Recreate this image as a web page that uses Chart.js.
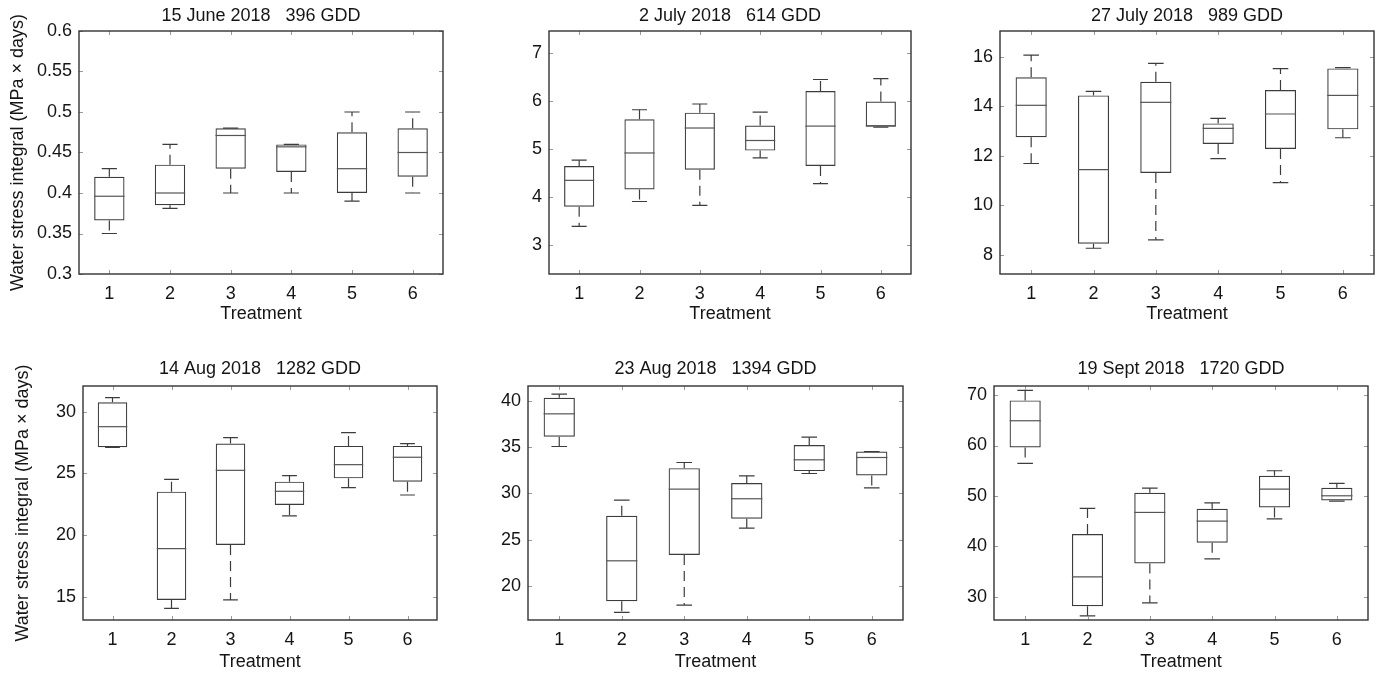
<!DOCTYPE html>
<html>
<head>
<meta charset="utf-8">
<script src="https://cdn.jsdelivr.net/npm/chart.js@4.4.1/dist/chart.umd.min.js"></script>
<style>
  body { margin: 0; background: #fff; width: 1380px; height: 675px; position: relative; overflow: hidden; }
  canvas { position: absolute; }
</style>
</head>
<body>
<script>
const treatments = ['1', '2', '3', '4', '5', '6'];
const yTitle = 'Water stress integral (MPa \u00d7 days)';
const xTitle = 'Treatment';

// 15 June 2018, 396 GDD
const junMin = [0.350, 0.381, 0.400, 0.400, 0.390, 0.400];
const junQ1  = [0.366, 0.385, 0.430, 0.426, 0.400, 0.420];
const junMed = [0.396, 0.400, 0.471, 0.457, 0.430, 0.450];
const junQ3  = [0.420, 0.435, 0.480, 0.460, 0.475, 0.480];
const junMax = [0.430, 0.460, 0.480, 0.460, 0.500, 0.500];
const junTicks = [0.3, 0.35, 0.4, 0.45, 0.5, 0.55, 0.6];

// 2 July 2018, 614 GDD
const julMin = [3.39, 3.91, 3.83, 4.82, 4.28, 5.46];
const julQ1  = [3.80, 4.16, 4.57, 4.97, 4.65, 5.47];
const julMed = [4.35, 4.92, 5.44, 5.18, 5.48, 5.48];
const julQ3  = [4.65, 5.62, 5.76, 5.49, 6.21, 5.99];
const julMax = [4.77, 5.82, 5.94, 5.77, 6.45, 6.47];
const julTicks = [3, 4, 5, 6, 7];

// 27 July 2018, 989 GDD
const lateJulMin = [11.69, 8.27, 8.61, 11.89, 10.92, 12.73];
const lateJulQ1  = [12.75, 8.45, 11.31, 12.48, 12.28, 13.07];
const lateJulMed = [14.04, 11.44, 14.16, 13.11, 13.69, 14.44];
const lateJulQ3  = [15.17, 14.44, 14.99, 13.31, 14.66, 15.53];
const lateJulMax = [16.07, 14.60, 15.73, 13.51, 15.52, 15.56];
const lateJulTicks = [8, 10, 12, 14, 16];

// 14 Aug 2018, 1282 GDD
const augMin = [27.10, 14.05, 14.73, 21.54, 23.84, 23.24];
const augQ1  = [27.11, 14.73, 19.19, 22.43, 24.59, 24.32];
const augMed = [28.78, 18.89, 25.24, 23.54, 25.70, 26.30];
const augQ3  = [30.76, 23.51, 27.41, 24.32, 27.22, 27.22];
const augMax = [31.14, 24.51, 27.89, 24.81, 28.30, 27.41];
const augTicks = [15, 20, 25, 30];

// 23 Aug 2018, 1394 GDD
const lateAugMin = [35.06, 17.12, 17.91, 26.23, 32.14, 30.59];
const lateAugQ1  = [36.11, 18.34, 23.32, 27.24, 32.40, 31.93];
const lateAugMed = [38.59, 22.70, 30.45, 29.41, 33.62, 33.87];
const lateAugQ3  = [40.32, 27.57, 32.72, 31.10, 35.21, 34.52];
const lateAugMax = [40.72, 29.26, 33.33, 31.89, 36.07, 34.52];
const lateAugTicks = [20, 25, 30, 35, 40];

// 19 Sept 2018, 1720 GDD
const sepMin = [56.45, 26.23, 28.81, 37.54, 45.47, 48.98];
const sepQ1  = [59.62, 28.15, 36.61, 40.71, 47.72, 49.11];
const sepMed = [64.91, 33.97, 46.73, 45.01, 51.36, 50.03];
const sepQ3  = [68.94, 42.43, 50.63, 47.45, 54.00, 51.62];
const sepMax = [70.93, 47.52, 51.55, 48.64, 54.99, 52.48];
const sepTicks = [30, 40, 50, 60, 70];

const panels = [
  { title: '15 June 2018   396 GDD', min: junMin, q1: junQ1, med: junMed, q3: junQ3, max: junMax, ticks: junTicks,
    yMin: 0.3, yMax: 0.6, L: 79, R: 443, T: 31, B: 274, titleY: 16, xTitleOff: 40, yTitleX: 18 },
  { title: '2 July 2018   614 GDD', min: julMin, q1: julQ1, med: julMed, q3: julQ3, max: julMax, ticks: julTicks,
    yMin: 2.4, yMax: 7.46, L: 549, R: 911, T: 31, B: 274, titleY: 16, xTitleOff: 40 },
  { title: '27 July 2018   989 GDD', min: lateJulMin, q1: lateJulQ1, med: lateJulMed, q3: lateJulQ3, max: lateJulMax, ticks: lateJulTicks,
    yMin: 7.23, yMax: 17.04, L: 1000, R: 1374, T: 31, B: 274, titleY: 16, xTitleOff: 40 },
  { title: '14 Aug 2018   1282 GDD', min: augMin, q1: augQ1, med: augMed, q3: augQ3, max: augMax, ticks: augTicks,
    yMin: 13.1, yMax: 32.08, L: 83, R: 437, T: 386, B: 620, titleY: 369, xTitleOff: 42, yTitleX: 23 },
  { title: '23 Aug 2018   1394 GDD', min: lateAugMin, q1: lateAugQ1, med: lateAugMed, q3: lateAugQ3, max: lateAugMax, ticks: lateAugTicks,
    yMin: 16.3, yMax: 41.6, L: 528, R: 903, T: 386, B: 620, titleY: 369, xTitleOff: 42 },
  { title: '19 Sept 2018   1720 GDD', min: sepMin, q1: sepQ1, med: sepMed, q3: sepQ3, max: sepMax, ticks: sepTicks,
    yMin: 25.4, yMax: 71.8, L: 994, R: 1368, T: 386, B: 620, titleY: 369, xTitleOff: 42 }
];

Chart.defaults.font.family = '"Liberation Sans", Arial, Helvetica, sans-serif';
Chart.defaults.color = '#151515';

const FS = 18;
const LH = FS * 1.2;
const INK = '#151515';

// whiskers, caps and medians, placed through the chart's own scales
const boxExtras = {
  id: 'boxExtras',
  afterDatasetsDraw(chart, args, opts) {
    const ctx = chart.ctx;
    const y = chart.scales.y;
    const meta = chart.getDatasetMeta(0);
    ctx.save();
    ctx.strokeStyle = '#3c3c3c';
    ctx.lineWidth = 1.2;
    meta.data.forEach((bar, i) => {
      const cx = bar.x;
      const half = bar.width / 2;
      const yq1 = y.getPixelForValue(opts.q1[i]);
      const yq3 = y.getPixelForValue(opts.q3[i]);
      const ylo = y.getPixelForValue(opts.min[i]);
      const yhi = y.getPixelForValue(opts.max[i]);
      const ym = y.getPixelForValue(opts.med[i]);
      // whiskers, dashed, starting at the box
      ctx.setLineDash([10, 6]);
      ctx.beginPath();
      if (yhi < yq3 - 1) { ctx.moveTo(cx, yq3); ctx.lineTo(cx, yhi); }
      if (ylo > yq1 + 1) { ctx.moveTo(cx, yq1); ctx.lineTo(cx, ylo); }
      ctx.stroke();
      ctx.setLineDash([]);
      // caps
      ctx.beginPath();
      ctx.moveTo(cx - half / 2, yhi); ctx.lineTo(cx + half / 2, yhi);
      ctx.moveTo(cx - half / 2, ylo); ctx.lineTo(cx + half / 2, ylo);
      ctx.stroke();
      // median
      ctx.strokeStyle = '#555';
      ctx.beginPath();
      ctx.moveTo(cx - half, ym); ctx.lineTo(cx + half, ym);
      ctx.stroke();
      ctx.strokeStyle = '#3c3c3c';
    });
    ctx.restore();
  },
  afterDraw(chart) {
    const ctx = chart.ctx;
    const a = chart.chartArea;
    const x = chart.scales.x, y = chart.scales.y;
    ctx.save();
    // inward tick marks on all four sides
    ctx.strokeStyle = '#9a9a9a';
    ctx.lineWidth = 1;
    ctx.beginPath();
    x.ticks.forEach((t, i) => {
      const px = Math.round(x.getPixelForTick(i)) + 0.5;
      ctx.moveTo(px, a.bottom); ctx.lineTo(px, a.bottom - 4);
      ctx.moveTo(px, a.top); ctx.lineTo(px, a.top + 4);
    });
    y.ticks.forEach(t => {
      const py = Math.round(y.getPixelForValue(t.value)) + 0.5;
      ctx.moveTo(a.left, py); ctx.lineTo(a.left + 4, py);
      ctx.moveTo(a.right, py); ctx.lineTo(a.right - 4, py);
    });
    ctx.stroke();
    // frame
    ctx.strokeStyle = '#333';
    ctx.lineWidth = 1.4;
    ctx.strokeRect(a.left, a.top, a.right - a.left, a.bottom - a.top);
    ctx.restore();
  }
};

panels.forEach(p => {
  const hasYTitle = p.yTitleX !== undefined;
  const wy = hasYTitle ? p.L : 50;
  const left = p.L - wy;
  const padT = 5;
  const top = Math.round(p.titleY - LH / 2 - padT);
  const padB = p.T - top - padT - LH;
  const hx = 52;
  const padR = 3;
  const cv = document.createElement('canvas');
  cv.width = wy + (p.R - p.L) + padR;
  cv.height = (p.B - top) + hx;
  cv.style.left = left + 'px';
  cv.style.top = top + 'px';
  document.body.appendChild(cv);

  new Chart(cv, {
    type: 'bar',
    data: {
      labels: treatments,
      datasets: [{
        data: p.q1.map((v, i) => [v, p.q3[i]]),
        backgroundColor: 'rgba(255,255,255,0)',
        borderColor: '#3c3c3c',
        borderWidth: 1.2,
        borderSkipped: false,
        barPercentage: 0.5,
        categoryPercentage: 1.0
      }]
    },
    options: {
      responsive: false,
      animation: false,
      devicePixelRatio: 1,
      layout: { padding: { left: 0, right: padR, top: 0, bottom: 0 } },
      plugins: {
        legend: { display: false },
        tooltip: { enabled: false },
        title: {
          display: true,
          text: p.title,
          fullSize: false,
          color: INK,
          font: { size: FS, weight: 'normal' },
          padding: { top: padT, bottom: padB }
        },
        boxExtras: { min: p.min, q1: p.q1, med: p.med, q3: p.q3, max: p.max }
      },
      scales: {
        x: {
          type: 'category',
          offset: true,
          grid: { display: false, drawTicks: false },
          border: { display: false },
          ticks: { padding: 9, font: { size: FS }, color: INK },
          title: {
            display: true, text: xTitle, color: INK,
            font: { size: FS },
            padding: { top: 0, bottom: hx - p.xTitleOff - LH / 2 }
          },
          afterFit(s) { s.height = hx; }
        },
        y: {
          type: 'linear',
          min: p.yMin,
          max: p.yMax,
          grid: { display: false, drawTicks: false },
          border: { display: false },
          afterBuildTicks(s) { s.ticks = p.ticks.map(v => ({ value: v })); },
          ticks: {
            padding: 7,
            font: { size: FS },
            color: INK,
            callback: v => String(Math.round(v * 100) / 100)
          },
          title: {
            display: hasYTitle, text: yTitle, color: INK,
            font: { size: FS },
            padding: { top: hasYTitle ? p.yTitleX - LH / 2 : 0, bottom: 0 }
          },
          afterFit(s) { s.width = wy; }
        }
      }
    },
    plugins: [boxExtras]
  });
});
</script>
</body>
</html>
